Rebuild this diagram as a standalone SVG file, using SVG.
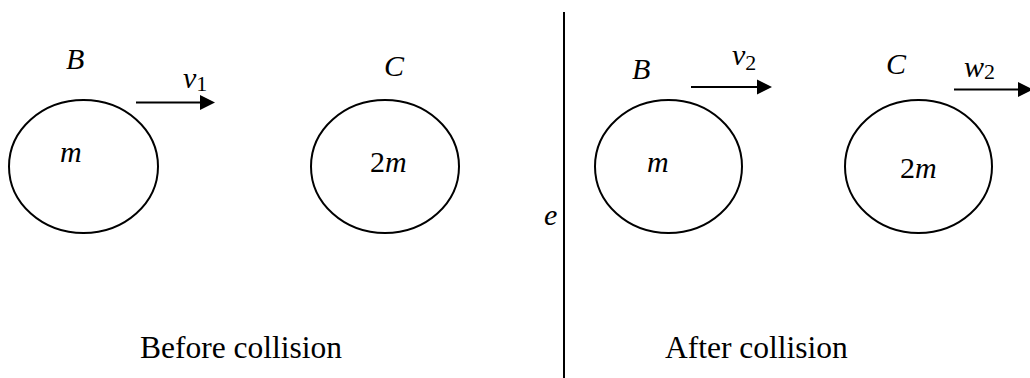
<svg xmlns="http://www.w3.org/2000/svg" width="1030" height="378" viewBox="0 0 1030 378">
<style>
.ball{fill:none;stroke:#000;stroke-width:2}
.lbl{font-family:"Liberation Serif","Times New Roman",serif;font-style:italic;font-size:30px;fill:#000}
.sub{font-family:"Liberation Serif","Times New Roman",serif;font-style:normal;font-size:22px}
.cap{font-family:"Liberation Serif","Times New Roman",serif;font-size:31.5px;fill:#000}
.arr{stroke:#000;stroke-width:2;fill:none;marker-end:url(#head)}
</style>
<defs>
<marker id="head" markerUnits="userSpaceOnUse" markerWidth="16" markerHeight="16" refX="0" refY="7.5" orient="auto" overflow="visible">
<path d="M0,0 L15,7.5 L0,15 Z" fill="#000"/>
</marker>
</defs>
<rect width="1030" height="378" fill="#fff"/>
<g id="divider">
<line x1="564" y1="12" x2="564" y2="378" stroke="#000" stroke-width="2"/>
<text class="lbl" x="544" y="225">e</text>
</g>
<g id="ball-B-before">
<ellipse class="ball" cx="83.5" cy="166.5" rx="74.5" ry="66.5"/>
<text class="lbl" x="66" y="69">B</text>
<text class="lbl" x="60" y="162">m</text>
</g>
<g id="ball-C-before">
<ellipse class="ball" cx="385" cy="166.5" rx="74" ry="66.5"/>
<text class="lbl" x="384" y="76">C</text>
<text class="lbl" x="370" y="172"><tspan font-style="normal">2</tspan>m</text>
</g>
<g id="ball-B-after">
<ellipse class="ball" cx="668.5" cy="166.5" rx="73.5" ry="66.5"/>
<text class="lbl" x="632" y="79">B</text>
<text class="lbl" x="647" y="172">m</text>
</g>
<g id="ball-C-after">
<ellipse class="ball" cx="918.5" cy="166.5" rx="73.5" ry="66.5"/>
<text class="lbl" x="886" y="74">C</text>
<text class="lbl" x="900" y="178"><tspan font-style="normal">2</tspan>m</text>
</g>
<g id="connectors">
<line class="arr" x1="136" y1="102.5" x2="200" y2="102.5"/>
<line class="arr" x1="691" y1="87" x2="757" y2="87"/>
<line class="arr" x1="954" y1="89.5" x2="1018" y2="89.5"/>
</g>
<g id="velocity-labels">
<text class="lbl" x="183" y="88">v<tspan class="sub" dy="3">1</tspan></text>
<text class="lbl" x="732" y="65">v<tspan class="sub" dy="5">2</tspan></text>
<text class="lbl" x="964" y="77">w<tspan class="sub" dy="2">2</tspan></text>
</g>
<g id="captions">
<text class="cap" x="140" y="358">Before collision</text>
<text class="cap" x="665" y="358">After collision</text>
</g>
</svg>
